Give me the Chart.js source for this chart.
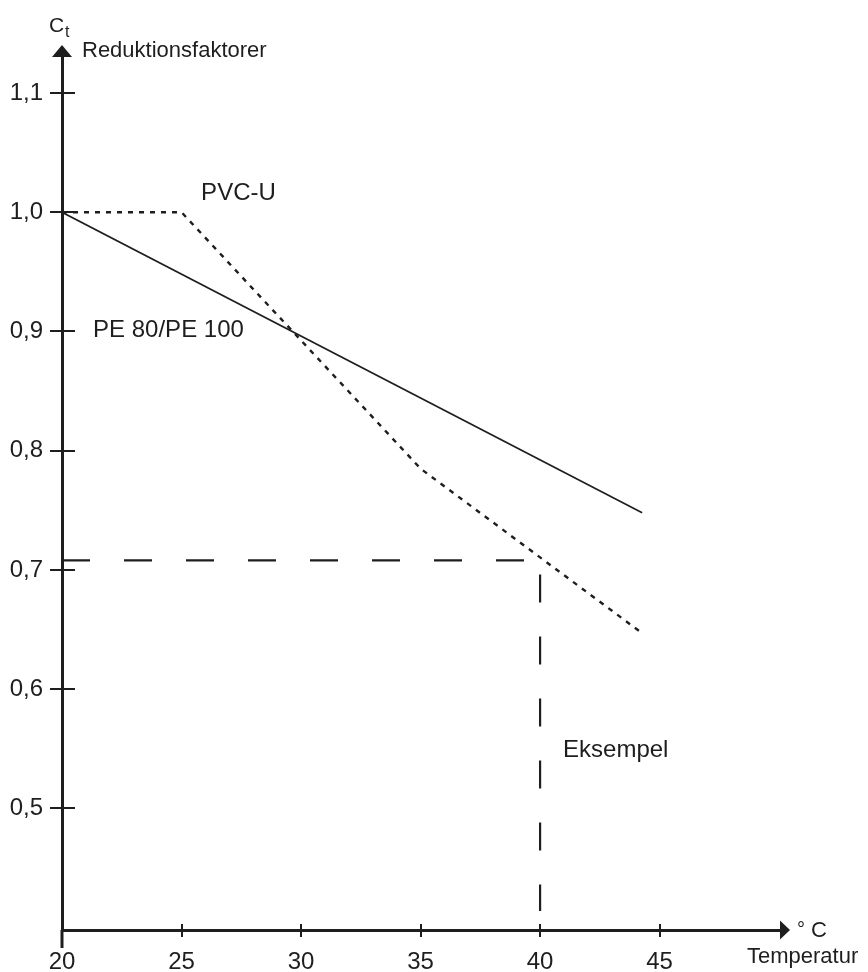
<!DOCTYPE html>
<html>
<head>
<meta charset="utf-8">
<script src="https://cdn.jsdelivr.net/npm/chart.js@4"></script>
<style>
  body { margin: 0; background: #fff; }
</style>
</head>
<body>
<canvas id="myChart" width="868" height="972"></canvas>
<script>
// data
const peTemp = [20, 44.27];
const peFactor = [1.0, 0.748];
const pvcTemp = [20, 25, 35, 44.27];
const pvcFactor = [1.0, 1.0, 0.785, 0.647];
const exampleTemp = [20, 40];
const exampleFactor = [0.708, 0.414]; // read value, then down to the x axis
const xTicks = [20, 25, 30, 35, 40, 45];
const yTicks = [0.5, 0.6, 0.7, 0.8, 0.9, 1.0, 1.1];

const ink = "#1e1e1e";
const font = "Liberation Sans, Arial, sans-serif";

function points(xs, ys) {
  return xs.map((x, i) => ({ x: x, y: ys[i] }));
}

// cross ticks, arrows and all the texts
const decor = {
  id: "decor",
  afterDraw(chart) {
    const ctx = chart.ctx;
    const xs = chart.scales.x;
    const ys = chart.scales.y;
    const a = chart.chartArea;
    const x0 = xs.getPixelForValue(20);
    const y0 = a.bottom;
    ctx.save();
    ctx.strokeStyle = ink;
    ctx.fillStyle = ink;

    // y ticks go through the axis
    ctx.lineWidth = 2;
    yTicks.forEach(v => {
      const y = Math.round(ys.getPixelForValue(v));
      ctx.beginPath();
      ctx.moveTo(x0 - 12, y);
      ctx.lineTo(x0 + 13, y);
      ctx.stroke();
    });
    xTicks.slice(1).forEach(v => {
      const x = Math.round(xs.getPixelForValue(v));
      ctx.beginPath();
      ctx.moveTo(x, y0 - 6);
      ctx.lineTo(x, y0 + 7);
      ctx.stroke();
    });
    // y axis runs a bit below the origin
    ctx.lineWidth = 3;
    ctx.beginPath();
    ctx.moveTo(x0, y0);
    ctx.lineTo(x0, y0 + 18);
    ctx.stroke();

    // arrow heads
    ctx.beginPath();
    ctx.moveTo(x0, a.top - 11);
    ctx.lineTo(x0 - 10, a.top + 1);
    ctx.lineTo(x0 + 10, a.top + 1);
    ctx.closePath();
    ctx.fill();
    ctx.beginPath();
    ctx.moveTo(a.right + 8, y0);
    ctx.lineTo(a.right - 2, y0 - 9.5);
    ctx.lineTo(a.right - 2, y0 + 9.5);
    ctx.closePath();
    ctx.fill();

    // axis titles
    ctx.textAlign = "left";
    ctx.textBaseline = "alphabetic";
    ctx.font = "21px " + font;
    ctx.fillText("C", 49, 32);
    ctx.font = "16px " + font;
    ctx.fillText("t", 65, 37);
    ctx.font = "22px " + font;
    ctx.fillText("Reduktionsfaktorer", 82, 57);
    ctx.font = "20px " + font;
    ctx.fillText("°", 797, 936);
    ctx.font = "22px " + font;
    ctx.fillText("C", 811, 937);
    ctx.font = "22px " + font;
    ctx.fillText("Temperatur", 747, 963);

    // curve labels, placed in data units
    ctx.font = "24px " + font;
    ctx.fillText("PVC-U", xs.getPixelForValue(25.82), ys.getPixelForValue(1.0103));
    ctx.fillText("PE 80/PE 100", xs.getPixelForValue(21.3), ys.getPixelForValue(0.8954));
    ctx.fillText("Eksempel", xs.getPixelForValue(40.96), ys.getPixelForValue(0.5432));
    ctx.restore();
  }
};

const ctx = document.getElementById("myChart");
const myChart = new Chart(ctx, {
  type: "line",
  data: {
    datasets: [
      {
        label: "PE 80/PE 100",
        data: points(peTemp, peFactor),
        borderColor: ink,
        borderWidth: 1.7,
        pointRadius: 0,
      },
      {
        label: "PVC-U",
        data: points(pvcTemp, pvcFactor),
        borderColor: ink,
        borderWidth: 2.4,
        borderDash: [5, 6],
        pointRadius: 0,
      },
      {
        label: "Eksempel",
        data: [{ x: exampleTemp[0], y: exampleFactor[0] }, { x: exampleTemp[1], y: exampleFactor[0] }],
        borderColor: ink,
        borderWidth: 2.2,
        borderDash: [28, 34],
        pointRadius: 0,
      },
      {
        label: "Eksempel ned",
        data: [{ x: exampleTemp[1], y: exampleFactor[0] }, { x: exampleTemp[1], y: exampleFactor[1] }],
        borderColor: ink,
        borderWidth: 2.2,
        borderDash: [28, 34],
        borderDashOffset: 48,
        pointRadius: 0,
      },
    ],
  },
  options: {
    responsive: false,
    animation: false,
    layout: { padding: { top: 56, right: 86, left: 0, bottom: 0 } },
    plugins: {
      legend: { display: false },
      tooltip: { enabled: false },
    },
    scales: {
      x: {
        type: "linear",
        min: 20,
        max: 50.12,
        afterFit: s => { s.height = 42; },
        afterBuildTicks: s => { s.ticks = xTicks.map(v => ({ value: v })); },
        grid: { display: true, drawOnChartArea: false, drawTicks: false },
        border: { color: ink, width: 3 },
        ticks: {
          padding: 18,
          color: ink,
          font: { family: font, size: 24 },
          callback: v => String(v),
        },
      },
      y: {
        type: "linear",
        min: 0.3981,
        max: 1.131,
        afterFit: s => { s.width = 62; },
        afterBuildTicks: s => { s.ticks = yTicks.map(v => ({ value: v })); },
        grid: { display: true, drawOnChartArea: false, drawTicks: false },
        border: { color: ink, width: 3 },
        ticks: {
          padding: 19,
          color: ink,
          font: { family: font, size: 24 },
          callback: v => v.toFixed(1).replace(".", ","),
        },
      },
    },
  },
  plugins: [decor],
});
</script>
</body>
</html>
